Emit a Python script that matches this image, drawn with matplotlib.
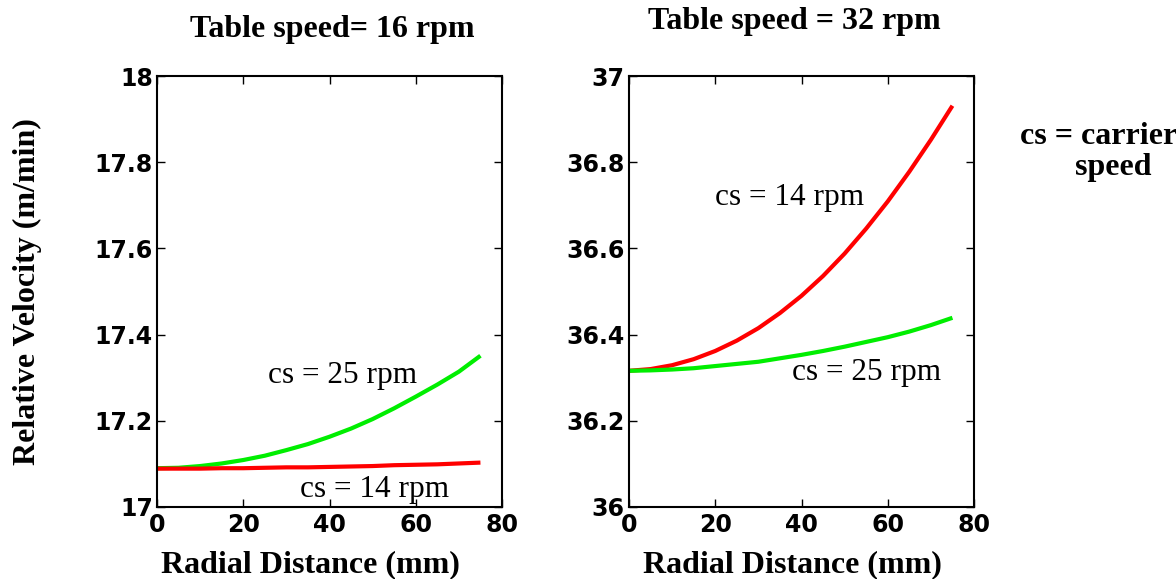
import numpy as np
import matplotlib
matplotlib.use("Agg")
import matplotlib.pyplot as plt

# Data
radial = [0, 5, 10, 15, 20, 25, 30, 35, 40, 45, 50, 55, 60, 65, 70, 75]

# Table speed = 16 rpm
ts16_cs25 = [17.090, 17.091, 17.095, 17.101, 17.109, 17.119, 17.132, 17.146,
             17.163, 17.182, 17.204, 17.229, 17.256, 17.284, 17.314, 17.351]
ts16_cs14 = [17.089, 17.089, 17.089, 17.090, 17.090, 17.091, 17.092, 17.092,
             17.093, 17.094, 17.095, 17.097, 17.098, 17.099, 17.101, 17.103]

# Table speed = 32 rpm
ts32_cs14 = [36.316, 36.320, 36.329, 36.343, 36.362, 36.386, 36.415, 36.450,
             36.490, 36.536, 36.588, 36.646, 36.709, 36.778, 36.852, 36.931]
ts32_cs25 = [36.316, 36.317, 36.319, 36.322, 36.327, 36.332, 36.337, 36.345,
             36.353, 36.362, 36.372, 36.383, 36.394, 36.407, 36.422, 36.439]

xticks = [0, 20, 40, 60, 80]
yticks_left = [17, 17.2, 17.4, 17.6, 17.8, 18]
yticks_right = [36, 36.2, 36.4, 36.6, 36.8, 37]
ylabels_left = ["17", "17.2", "17.4", "17.6", "17.8", "18"]
ylabels_right = ["36", "36.2", "36.4", "36.6", "36.8", "37"]

W, H = 1176, 579
fig = plt.figure(figsize=(W / 100, H / 100), dpi=100)

serif = "Liberation Serif"
tickfont = {"family": "DejaVu Sans", "weight": "bold", "size": 17}

def make_ax(x0, x1, y0, y1):
    return fig.add_axes([x0 / W, 1 - y1 / H, (x1 - x0) / W, (y1 - y0) / H])

axL = make_ax(157, 502, 76, 507)
axR = make_ax(629, 974, 76, 507)

red = "#ff0000"
green = "#00ee00"

axL.plot(radial, ts16_cs25, color=green, lw=3, solid_capstyle="butt")
axL.plot(radial, ts16_cs14, color=red, lw=3, solid_capstyle="butt")
axR.plot(radial, ts32_cs14, color=red, lw=3, solid_capstyle="butt")
axR.plot(radial, ts32_cs25, color=green, lw=3, solid_capstyle="butt")

for ax, yt, yl in [(axL, yticks_left, ylabels_left), (axR, yticks_right, ylabels_right)]:
    ax.set_xlim(0, 80)
    ax.set_ylim(yt[0], yt[-1])
    ax.set_xticks(xticks)
    ax.set_xticklabels([str(v) for v in xticks], fontdict=tickfont)
    ax.set_yticks(yt)
    ax.set_yticklabels(yl, fontdict=tickfont)
    ax.tick_params(direction="in", length=6, width=1, top=True, right=True, pad=3)
    ax.tick_params(axis="x", pad=4)
    for s in ax.spines.values():
        s.set_linewidth(1.5)

fs = 22.5
axL.text(25.7, 17.306, "cs = 25 rpm", family=serif, size=fs, va="center", ha="left")
axL.text(33.2, 17.04, "cs = 14 rpm", family=serif, size=fs, va="center", ha="left")
axR.text(19.9, 36.719, "cs = 14 rpm", family=serif, size=fs, va="center", ha="left")
axR.text(37.8, 36.311, "cs = 25 rpm", family=serif, size=fs, va="center", ha="left")

bold = dict(family=serif, weight="bold", size=23)
fig.text(332 / W, 1 - 29 / H, "Table speed= 16 rpm", ha="center", va="center", **bold)
fig.text(794 / W, 1 - 22 / H, "Table speed = 32 rpm", ha="center", va="center", **bold)
fig.text(1020 / W, 1 - 137 / H, "cs = carrier", ha="left", va="center", **bold)
fig.text(1075 / W, 1 - 167 / H, "speed", ha="left", va="center", **bold)
fig.text(310 / W, 1 - 565 / H, "Radial Distance (mm)", ha="center", va="center", **bold)
fig.text(792 / W, 1 - 565 / H, "Radial Distance (mm)", ha="center", va="center", **bold)
fig.text(27 / W, 1 - 292 / H, "Relative Velocity (m/min)", ha="center", va="center",
         rotation=90, **bold)

fig.savefig("out.png", dpi=100)
